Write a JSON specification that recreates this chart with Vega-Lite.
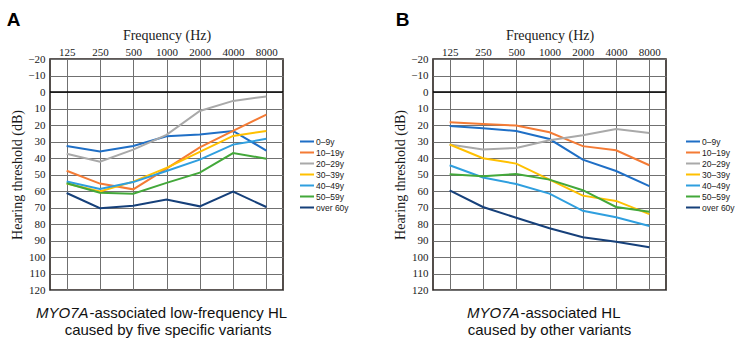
{
  "$schema": "https://vega.github.io/schema/vega-lite/v6.json",
  "padding": {"left": 5, "top": 10, "right": 0, "bottom": 0},
  "spacing": 150,
  "bounds": "flush",
  "datasets": {
    "panelA": [
      {"g": "0–9y", "f": "125", "v": 32.7}, {"g": "0–9y", "f": "250", "v": 36}, {"g": "0–9y", "f": "500", "v": 32.7}, {"g": "0–9y", "f": "1000", "v": 26.8}, {"g": "0–9y", "f": "2000", "v": 25.8}, {"g": "0–9y", "f": "4000", "v": 23.6}, {"g": "0–9y", "f": "8000", "v": 35.5},
      {"g": "10–19y", "f": "125", "v": 47.7}, {"g": "10–19y", "f": "250", "v": 55.5}, {"g": "10–19y", "f": "500", "v": 59}, {"g": "10–19y", "f": "1000", "v": 46.5}, {"g": "10–19y", "f": "2000", "v": 33.6}, {"g": "10–19y", "f": "4000", "v": 23.6}, {"g": "10–19y", "f": "8000", "v": 13.7},
      {"g": "20–29y", "f": "125", "v": 37.4}, {"g": "20–29y", "f": "250", "v": 42.3}, {"g": "20–29y", "f": "500", "v": 34.9}, {"g": "20–29y", "f": "1000", "v": 26}, {"g": "20–29y", "f": "2000", "v": 11.5}, {"g": "20–29y", "f": "4000", "v": 5.4}, {"g": "20–29y", "f": "8000", "v": 2.7},
      {"g": "30–39y", "f": "125", "v": 55.5}, {"g": "30–39y", "f": "250", "v": 60.3}, {"g": "30–39y", "f": "500", "v": 54.3}, {"g": "30–39y", "f": "1000", "v": 46}, {"g": "30–39y", "f": "2000", "v": 36.3}, {"g": "30–39y", "f": "4000", "v": 26.6}, {"g": "30–39y", "f": "8000", "v": 23.6},
      {"g": "40–49y", "f": "125", "v": 54.2}, {"g": "40–49y", "f": "250", "v": 58.8}, {"g": "40–49y", "f": "500", "v": 54.6}, {"g": "40–49y", "f": "1000", "v": 47.9}, {"g": "40–49y", "f": "2000", "v": 41}, {"g": "40–49y", "f": "4000", "v": 31.9}, {"g": "40–49y", "f": "8000", "v": 28.4},
      {"g": "50–59y", "f": "125", "v": 55.3}, {"g": "50–59y", "f": "250", "v": 61}, {"g": "50–59y", "f": "500", "v": 61.6}, {"g": "50–59y", "f": "1000", "v": 55.1}, {"g": "50–59y", "f": "2000", "v": 48.9}, {"g": "50–59y", "f": "4000", "v": 37}, {"g": "50–59y", "f": "8000", "v": 40.4},
      {"g": "over 60y", "f": "125", "v": 61.2}, {"g": "over 60y", "f": "250", "v": 70.4}, {"g": "over 60y", "f": "500", "v": 69}, {"g": "over 60y", "f": "1000", "v": 65.2}, {"g": "over 60y", "f": "2000", "v": 69.3}, {"g": "over 60y", "f": "4000", "v": 60.4}, {"g": "over 60y", "f": "8000", "v": 69.7}
    ],
    "panelB": [
      {"g": "0–9y", "f": "125", "v": 20.6}, {"g": "0–9y", "f": "250", "v": 22}, {"g": "0–9y", "f": "500", "v": 23.6}, {"g": "0–9y", "f": "1000", "v": 28.5}, {"g": "0–9y", "f": "2000", "v": 41}, {"g": "0–9y", "f": "4000", "v": 47.9}, {"g": "0–9y", "f": "8000", "v": 57},
      {"g": "10–19y", "f": "125", "v": 18.3}, {"g": "10–19y", "f": "250", "v": 19.4}, {"g": "10–19y", "f": "500", "v": 20.3}, {"g": "10–19y", "f": "1000", "v": 24.4}, {"g": "10–19y", "f": "2000", "v": 32.8}, {"g": "10–19y", "f": "4000", "v": 35.3}, {"g": "10–19y", "f": "8000", "v": 44.4},
      {"g": "20–29y", "f": "125", "v": 31.8}, {"g": "20–29y", "f": "250", "v": 34.9}, {"g": "20–29y", "f": "500", "v": 33.9}, {"g": "20–29y", "f": "1000", "v": 29.3}, {"g": "20–29y", "f": "2000", "v": 26.2}, {"g": "20–29y", "f": "4000", "v": 22.4}, {"g": "20–29y", "f": "8000", "v": 24.8},
      {"g": "30–39y", "f": "125", "v": 31.8}, {"g": "30–39y", "f": "250", "v": 40.1}, {"g": "30–39y", "f": "500", "v": 43.4}, {"g": "30–39y", "f": "1000", "v": 53.1}, {"g": "30–39y", "f": "2000", "v": 62.8}, {"g": "30–39y", "f": "4000", "v": 66}, {"g": "30–39y", "f": "8000", "v": 74},
      {"g": "40–49y", "f": "125", "v": 44.4}, {"g": "40–49y", "f": "250", "v": 51.8}, {"g": "40–49y", "f": "500", "v": 55.8}, {"g": "40–49y", "f": "1000", "v": 61.6}, {"g": "40–49y", "f": "2000", "v": 72}, {"g": "40–49y", "f": "4000", "v": 75.9}, {"g": "40–49y", "f": "8000", "v": 81.2},
      {"g": "50–59y", "f": "125", "v": 49.8}, {"g": "50–59y", "f": "250", "v": 51}, {"g": "50–59y", "f": "500", "v": 49.7}, {"g": "50–59y", "f": "1000", "v": 53.1}, {"g": "50–59y", "f": "2000", "v": 59.5}, {"g": "50–59y", "f": "4000", "v": 69.7}, {"g": "50–59y", "f": "8000", "v": 72.6},
      {"g": "over 60y", "f": "125", "v": 59.6}, {"g": "over 60y", "f": "250", "v": 69.7}, {"g": "over 60y", "f": "500", "v": 76.2}, {"g": "over 60y", "f": "1000", "v": 82.6}, {"g": "over 60y", "f": "2000", "v": 88}, {"g": "over 60y", "f": "4000", "v": 90.7}, {"g": "over 60y", "f": "8000", "v": 94.1}
    ]
  },
  "config": {
    "view": {"stroke": "#2a221f", "strokeWidth": 1.6},
    "axis": {
      "labelFont": "Liberation Serif",
      "titleFont": "Liberation Serif",
      "labelFontSize": 11,
      "titleFontSize": 14,
      "titleFontWeight": "normal",
      "labelColor": "#1a1a1a",
      "titleColor": "#1a1a1a",
      "ticks": false,
      "domain": false,
      "grid": true,
      "gridColor": "#707070",
      "gridWidth": 1,
      "gridOpacity": 1,
      "labelOverlap": false
    },
    "legend": {
      "orient": "none",
      "title": null,
      "symbolType": "stroke",
      "symbolSize": 196,
      "symbolStrokeWidth": 2,
      "labelFont": "Liberation Sans",
      "labelFontSize": 8.5,
      "labelColor": "#1a1a1a",
      "labelOffset": 1,
      "rowPadding": 0,
      "clipHeight": 11
    },
    "title": {"font": "Liberation Sans", "fontSize": 19, "fontWeight": "bold", "color": "#000", "anchor": "start", "frame": "bounds", "offset": -2}
  },
  "resolve": {"scale": {"color": "independent"}, "legend": {"color": "independent"}},
  "hconcat": [
    {
      "width": 233,
      "height": 231,
      "title": {"text": "A", "dx": -4},
      "layer": [
        {
          "data": {"name": "panelA"},
          "mark": {"type": "line", "strokeWidth": 2},
          "encoding": {
            "x": {
              "field": "f", "type": "ordinal",
              "scale": {"type": "point", "padding": 0.5, "domain": ["125", "250", "500", "1000", "2000", "4000", "8000"]},
              "axis": {"orient": "top", "title": "Frequency (Hz)", "labelAngle": 0, "labelPadding": 2, "titlePadding": 4}
            },
            "y": {
              "field": "v", "type": "quantitative",
              "scale": {"domain": [-20, 120], "reverse": true, "nice": false, "zero": false},
              "axis": {"title": "Hearing threshold (dB)", "values": [-20, -10, 0, 10, 20, 30, 40, 50, 60, 70, 80, 90, 100, 110, 120], "labelPadding": 5, "titlePadding": 3}
            },
            "color": {
              "field": "g", "type": "nominal",
              "scale": {"domain": ["0–9y", "10–19y", "20–29y", "30–39y", "40–49y", "50–59y", "over 60y"], "range": ["#1f6fc6", "#f47b35", "#a9a9a9", "#ffc000", "#2f9fdf", "#43a83a", "#16407a"]},
              "legend": {"legendX": 249, "legendY": 77}
            }
          }
        },
        {
          "data": {"values": [{}]},
          "mark": {"type": "rule", "color": "#000", "strokeWidth": 1.5},
          "encoding": {
            "y": {"datum": 0, "type": "quantitative", "axis": {"title": "Hearing threshold (dB)", "values": [-20, -10, 0, 10, 20, 30, 40, 50, 60, 70, 80, 90, 100, 110, 120], "labelPadding": 5, "titlePadding": 3}}
          }
        },
        {
          "data": {"values": [{"t": "MYO7A"}]},
          "mark": {"type": "text", "font": "Liberation Sans", "fontSize": 15, "fontStyle": "italic", "align": "right", "baseline": "alphabetic", "color": "#111", "dx": -78, "dy": 143},
          "encoding": {"text": {"field": "t"}}
        },
        {
          "data": {"values": [{"t": "-associated low-frequency HL"}]},
          "mark": {"type": "text", "font": "Liberation Sans", "fontSize": 15, "align": "left", "baseline": "alphabetic", "color": "#111", "dx": -77, "dy": 143},
          "encoding": {"text": {"field": "t"}}
        },
        {
          "data": {"values": [{"t": "caused by five specific variants"}]},
          "mark": {"type": "text", "font": "Liberation Sans", "fontSize": 15, "align": "center", "baseline": "alphabetic", "color": "#111", "dx": 1.5, "dy": 160},
          "encoding": {"text": {"field": "t"}}
        }
      ]
    },
    {
      "width": 233,
      "height": 231,
      "title": {"text": "B", "dx": 2},
      "layer": [
        {
          "data": {"name": "panelB"},
          "mark": {"type": "line", "strokeWidth": 2},
          "encoding": {
            "x": {
              "field": "f", "type": "ordinal",
              "scale": {"type": "point", "padding": 0.5, "domain": ["125", "250", "500", "1000", "2000", "4000", "8000"]},
              "axis": {"orient": "top", "title": "Frequency (Hz)", "labelAngle": 0, "labelPadding": 2, "titlePadding": 4}
            },
            "y": {
              "field": "v", "type": "quantitative",
              "scale": {"domain": [-20, 120], "reverse": true, "nice": false, "zero": false},
              "axis": {"title": "Hearing threshold (dB)", "values": [-20, -10, 0, 10, 20, 30, 40, 50, 60, 70, 80, 90, 100, 110, 120], "labelPadding": 5, "titlePadding": 3}
            },
            "color": {
              "field": "g", "type": "nominal",
              "scale": {"domain": ["0–9y", "10–19y", "20–29y", "30–39y", "40–49y", "50–59y", "over 60y"], "range": ["#1f6fc6", "#f47b35", "#a9a9a9", "#ffc000", "#2f9fdf", "#43a83a", "#16407a"]},
              "legend": {"legendX": 252, "legendY": 77}
            }
          }
        },
        {
          "data": {"values": [{}]},
          "mark": {"type": "rule", "color": "#000", "strokeWidth": 1.5},
          "encoding": {
            "y": {"datum": 0, "type": "quantitative", "axis": {"title": "Hearing threshold (dB)", "values": [-20, -10, 0, 10, 20, 30, 40, 50, 60, 70, 80, 90, 100, 110, 120], "labelPadding": 5, "titlePadding": 3}}
          }
        },
        {
          "data": {"values": [{"t": "MYO7A"}]},
          "mark": {"type": "text", "font": "Liberation Sans", "fontSize": 15, "fontStyle": "italic", "align": "right", "baseline": "alphabetic", "color": "#111", "dx": -30, "dy": 143},
          "encoding": {"text": {"field": "t"}}
        },
        {
          "data": {"values": [{"t": "-associated HL"}]},
          "mark": {"type": "text", "font": "Liberation Sans", "fontSize": 15, "align": "left", "baseline": "alphabetic", "color": "#111", "dx": -29, "dy": 143},
          "encoding": {"text": {"field": "t"}}
        },
        {
          "data": {"values": [{"t": "caused by other variants"}]},
          "mark": {"type": "text", "font": "Liberation Sans", "fontSize": 15, "align": "center", "baseline": "alphabetic", "color": "#111", "dx": 0, "dy": 160},
          "encoding": {"text": {"field": "t"}}
        }
      ]
    }
  ]
}
